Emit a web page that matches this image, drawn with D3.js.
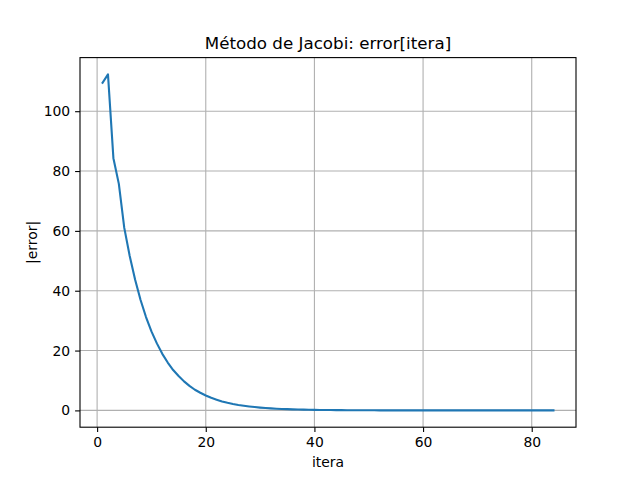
<!DOCTYPE html>
<html>
<head>
<meta charset="utf-8">
<script src="https://cdn.jsdelivr.net/npm/d3@7"></script>
<style>
  body { margin: 0; background: #fff; }
  text { font-family: "DejaVu Sans", sans-serif; fill: #000; }
</style>
</head>
<body>
<script>
// values
var itera = d3.range(1, 85);
var errorVals = [
  109.5, 112.3, 84.3, 75.7, 61.0, 51.6, 43.7, 36.9, 31.2, 26.4,
  22.4, 18.9, 16.0, 13.5, 11.5, 9.7, 8.2, 6.9, 5.9, 5.0,
  4.2, 3.6, 3.0, 2.55, 2.16, 1.83, 1.55, 1.31, 1.11, 0.94,
  0.79, 0.67, 0.57, 0.48, 0.41, 0.34, 0.29, 0.25, 0.21, 0.18,
  0.15, 0.13, 0.11, 0.09, 0.08, 0.07, 0.06, 0.05, 0.04, 0.035,
  0.03, 0.025, 0.02, 0.018, 0.015, 0.013, 0.011, 0.009, 0.008, 0.007,
  0.006, 0.005, 0.004, 0.0035, 0.003, 0.0025, 0.002, 0.0018, 0.0015, 0.0013,
  0.0011, 0.0009, 0.0008, 0.0007, 0.0006, 0.0005, 0.0004, 0.0004, 0.0003, 0.0003,
  0.0002, 0.0002, 0.0002, 0.0001
];
var xTicks = [0, 20, 40, 60, 80];
var yTicks = [0, 20, 40, 60, 80, 100];

(function(){
  var width = 640, height = 480;
  var mLeft = 80, mRight = 576, mTop = 57.6, mBottom = 427.2;

  var svg = d3.select("body").append("svg")
    .attr("width", width)
    .attr("height", height);

  // 5% margins like matplotlib
  var xExt = d3.extent(itera), yExt = d3.extent(errorVals);
  var xPad = (xExt[1] - xExt[0]) * 0.05, yPad = (yExt[1] - yExt[0]) * 0.05;

  var x = d3.scaleLinear().domain([xExt[0] - xPad, xExt[1] + xPad]).range([mLeft, mRight]);
  var y = d3.scaleLinear().domain([yExt[0] - yPad, yExt[1] + yPad]).range([mBottom, mTop]);

  // grid
  svg.append("g").selectAll("line").data(xTicks).enter().append("line")
    .attr("x1", function(d){ return x(d); }).attr("x2", function(d){ return x(d); })
    .attr("y1", mTop).attr("y2", mBottom)
    .attr("stroke", "#b0b0b0").attr("stroke-width", 1.1);
  svg.append("g").selectAll("line").data(yTicks).enter().append("line")
    .attr("y1", function(d){ return y(d); }).attr("y2", function(d){ return y(d); })
    .attr("x1", mLeft).attr("x2", mRight)
    .attr("stroke", "#b0b0b0").attr("stroke-width", 1.1);

  // line
  var line = d3.line()
    .x(function(d, i){ return x(itera[i]); })
    .y(function(d){ return y(d); });
  svg.append("path")
    .datum(errorVals)
    .attr("d", line)
    .attr("fill", "none")
    .attr("stroke", "#1f77b4")
    .attr("stroke-width", 2.1)
    .attr("stroke-linejoin", "round")
    .attr("stroke-linecap", "square");

  // axes
  var xAxis = svg.append("g")
    .attr("transform", "translate(0," + mBottom + ")")
    .call(d3.axisBottom(x).tickValues(xTicks).tickSize(4.9).tickPadding(4.9).tickSizeOuter(0));
  var yAxis = svg.append("g")
    .attr("transform", "translate(" + mLeft + ",0)")
    .call(d3.axisLeft(y).tickValues(yTicks).tickSize(4.9).tickPadding(4.9).tickSizeOuter(0));
  [xAxis, yAxis].forEach(function(a){
    a.select(".domain").remove();
    a.selectAll("line").attr("stroke", "#000").attr("stroke-width", 1.1);
    a.selectAll("text").style("font-family", "DejaVu Sans").style("font-size", "13.9px").attr("fill", "#000");
  });

  // frame
  svg.append("rect")
    .attr("x", mLeft).attr("y", mTop)
    .attr("width", mRight - mLeft).attr("height", mBottom - mTop)
    .attr("fill", "none").attr("stroke", "#000").attr("stroke-width", 1.1);

  // title and labels
  svg.append("text")
    .attr("x", (mLeft + mRight) / 2).attr("y", 49)
    .attr("text-anchor", "middle")
    .style("font-size", "16.7px")
    .text("Método de Jacobi: error[itera]");
  svg.append("text")
    .attr("x", (mLeft + mRight) / 2).attr("y", 467)
    .attr("text-anchor", "middle")
    .style("font-size", "13.9px")
    .text("itera");
  svg.append("text")
    .attr("transform", "translate(37," + ((mTop + mBottom) / 2) + ") rotate(-90)")
    .attr("text-anchor", "middle")
    .style("font-size", "13.9px")
    .text("|error|");
})();
</script>
</body>
</html>
